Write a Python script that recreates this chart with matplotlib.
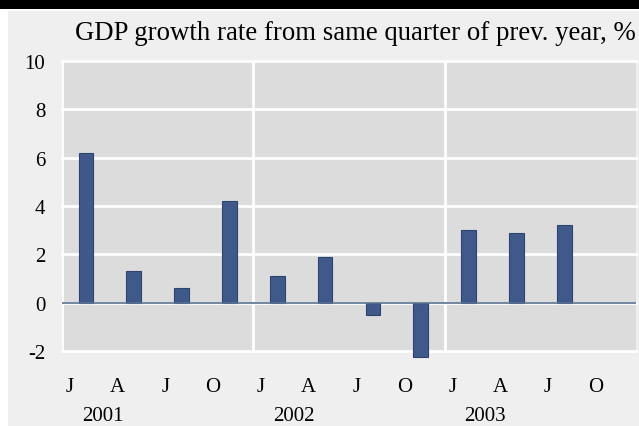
import numpy as np
import matplotlib.pyplot as plt
from matplotlib.patches import Rectangle

quarters = ['J', 'A', 'J', 'O'] * 3
years = ['2001', '2002', '2003']
growth = [6.2, 1.3, 0.6, 4.2, 1.1, 1.9, -0.5, -2.25, 3.0, 2.9, 3.2, np.nan]
yticks = [-2, 0, 2, 4, 6, 8, 10]

plt.rcParams['font.family'] = ['Liberation Serif', 'DejaVu Serif']

fig = plt.figure(figsize=(6.39, 4.27), dpi=100)
fig.patch.set_facecolor('white')
# light grey panel and black band on top
fig.patches.append(Rectangle((8/639, 0), 1, (427-12)/427, transform=fig.transFigure,
                             facecolor='#efefef', edgecolor='none', zorder=-2))
fig.patches.append(Rectangle((0, (427-10)/427), 1, 10/427, transform=fig.transFigure,
                             facecolor='black', edgecolor='none', zorder=-2))

ax = fig.add_axes([62/639, (427-352)/427, (636-62)/639, 290/427])
ax.set_facecolor('#dcdcdc')
for s in ax.spines.values():
    s.set_visible(False)

x = np.arange(len(growth)) + 0.5
ax.bar(x, growth, width=0.31, color='#3f5a8a', edgecolor='#2e4470', linewidth=0.8,
       zorder=3, clip_on=False)

for yv in yticks:
    ax.axhline(yv, color='white', lw=2, zorder=1, clip_on=False)
for xv in [0, 4, 8]:
    ax.axvline(xv, color='white', lw=2, zorder=1)
ax.axhline(0, color='#5b7291', lw=1.2, zorder=4)

ax.set_xlim(0, 12)
ax.set_ylim(-2, 10)
ax.set_yticks(yticks)
ax.set_yticklabels([str(v) for v in yticks], fontsize=15)
ax.tick_params(axis='y', length=0, pad=12)
ax.set_xticks([])

for i, q in enumerate(quarters):
    ax.text(i + 0.16, -3.45, q, ha='center', va='center', fontsize=15, clip_on=False)
for j, yr in enumerate(years):
    ax.text(j * 4 + 0.85, -4.65, yr, ha='center', va='center', fontsize=15, clip_on=False)

fig.text(636/639, (427-33)/427, 'GDP growth rate from same quarter of prev. year, %',
         ha='right', va='center', fontsize=19.3)

fig.savefig('out.png', dpi=100)
